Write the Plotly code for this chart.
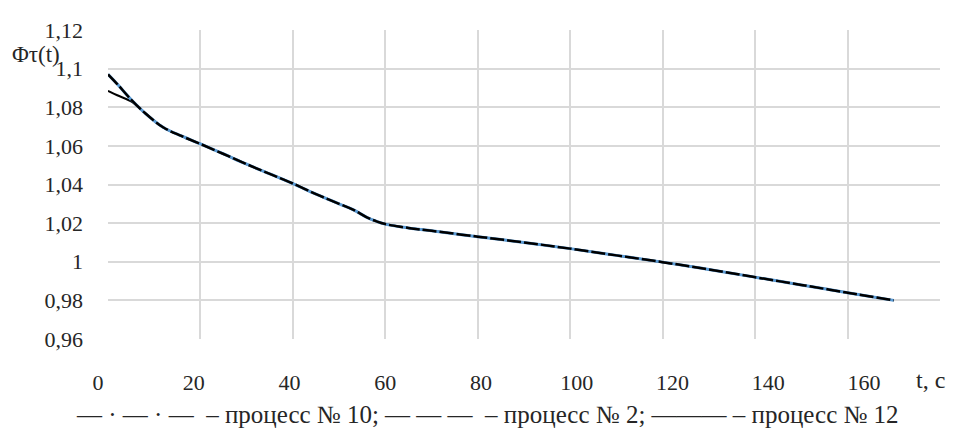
import plotly.graph_objects as go

# time, s
t = [0, 2, 5, 8, 12, 16, 20, 25, 30, 35, 40, 45, 50, 53, 56, 58, 60, 65, 70, 80,
     90, 100, 110, 120, 130, 140, 150, 160, 170]

proc10 = [1.097, 1.092, 1.084, 1.077, 1.0695, 1.065, 1.061, 1.0558, 1.0505, 1.0455,
          1.0405, 1.035, 1.030, 1.027, 1.023, 1.021, 1.0195, 1.0175, 1.016, 1.013,
          1.010, 1.0068, 1.0033, 0.9998, 0.996, 0.992, 0.988, 0.984, 0.980]
proc2 = [1.097, 1.092, 1.084, 1.077, 1.0695, 1.065, 1.061, 1.0558, 1.0505, 1.0455,
         1.0405, 1.035, 1.030, 1.027, 1.023, 1.021, 1.0195, 1.0175, 1.016, 1.013,
         1.010, 1.0068, 1.0033, 0.9998, 0.996, 0.992, 0.988, 0.984, 0.980]
proc12 = [1.0885, 1.0862, 1.083, 1.077, 1.0695, 1.065, 1.061, 1.0558, 1.0505, 1.0455,
          1.0405, 1.035, 1.030, 1.027, 1.023, 1.021, 1.0195, 1.0175, 1.016, 1.013,
          1.010, 1.0068, 1.0033, 0.9998, 0.996, 0.992, 0.988, 0.984, 0.980]

x_grid = [0, 20, 40, 60, 80, 100, 120, 140, 160, 180]
x_ticks = [0, 20, 40, 60, 80, 100, 120, 140, 160]
x_tick_text = ["0", "20", "40", "60", "80", "100", "120", "140", "160"]
y_ticks = [0.96, 0.98, 1.0, 1.02, 1.04, 1.06, 1.08, 1.10, 1.12]
y_tick_text = ["0,96", "0,98", "1", "1,02", "1,04", "1,06", "1,08", "1,1", "1,12"]

legend_text = ("— · — · —  – процесс № 10; — — —  – процесс № 2; "
               "——— – процесс № 12")

FONT = "Liberation Serif"
TXT = "#262626"
GRID = "#d9d9d9"

fig = go.Figure()
fig.add_trace(go.Scatter(x=t, y=proc12, mode="lines", name="процесс № 12",
                         line=dict(color="#000000", width=2, shape="spline")))
fig.add_trace(go.Scatter(x=t, y=proc2, mode="lines", name="процесс № 2",
                         line=dict(color="#5B9BD5", width=3, shape="spline")))
fig.add_trace(go.Scatter(x=t, y=proc10, mode="lines", name="процесс № 10",
                         line=dict(color="#000000", width=2.5, shape="spline",
                                   dash="14px,3px")))
# carrier for the tick-label axis (no visible marks)
fig.add_trace(go.Scatter(x=[0, 160], y=[None, None], xaxis="x2", yaxis="y2",
                         mode="lines", showlegend=False, hoverinfo="skip"))

fig.update_layout(
    width=942, height=423,
    margin=dict(l=90, r=10, t=15, b=92),
    paper_bgcolor="white", plot_bgcolor="rgba(0,0,0,0)",
    showlegend=False,
    font=dict(family=FONT, color=TXT),
    xaxis=dict(domain=[10 / 842, 1], range=[0, 180], tickvals=x_grid,
               showticklabels=False, showgrid=True, gridcolor=GRID, gridwidth=1.5,
               zeroline=False, showline=False),
    yaxis=dict(range=[0.96, 1.12], tickvals=y_ticks, ticktext=y_tick_text,
               showgrid=True, gridcolor=GRID, gridwidth=1.5, zeroline=False,
               showline=False, tickfont=dict(size=22, family=FONT, color=TXT),
               ticklabelstandoff=24),
    xaxis2=dict(domain=[0, 1], range=[0, 160 * 842 / 766], anchor="y2",
                tickvals=x_ticks, ticktext=x_tick_text, showgrid=False,
                zeroline=False, showline=False,
                tickfont=dict(size=22, family=FONT, color=TXT),
                ticklabelstandoff=28),
    yaxis2=dict(domain=[0, 1], range=[0, 1], anchor="x2", visible=False,
                showgrid=False, zeroline=False),
)

fig.add_annotation(text="Φτ(t)", xref="paper", yref="paper", x=-0.0735, y=0.922,
                   xanchor="center", yanchor="middle", showarrow=False,
                   font=dict(size=23, family=FONT, color=TXT))
fig.add_annotation(text="t, c", xref="paper", yref="paper", x=0.9893, y=-0.133,
                   xanchor="center", yanchor="middle", showarrow=False,
                   font=dict(size=24, family=FONT, color=TXT))
fig.add_annotation(text=legend_text, xref="paper", yref="paper", x=0.462, y=-0.245,
                   xanchor="center", yanchor="middle", showarrow=False,
                   font=dict(size=25, family=FONT, color=TXT))

fig.write_html("out.html")
